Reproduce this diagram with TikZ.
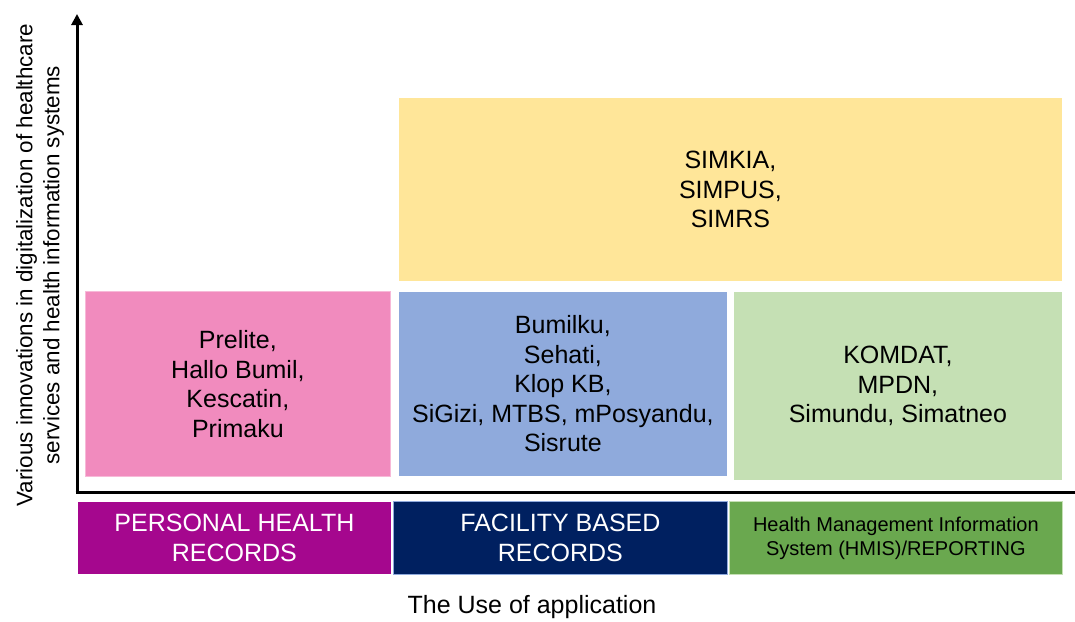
\documentclass[tikz,border=0pt]{standalone}
\usepackage{fontspec}
\setmainfont{Liberation Sans}
\usetikzlibrary{arrows.meta}
\definecolor{pinkbox}{HTML}{F18BBE}
\definecolor{bluebox}{HTML}{8FAADC}
\definecolor{yellowbox}{HTML}{FFE699}
\definecolor{greenbox}{HTML}{C5E0B4}
\definecolor{phrcol}{HTML}{A5078E}
\definecolor{fbrcol}{HTML}{002060}
\definecolor{hmiscol}{HTML}{6AA84F}
\tikzset{
    cell/.style={draw=white, line width=0.8pt, inner sep=0pt, align=center, anchor=north west,
      font=\fontsize{25}{29.5}\selectfont},
    usecell/.style={cell, font=\fontsize{25}{30.5}\selectfont},
    axis/.style={line width=3pt},
  }
\begin{document}
\begin{tikzpicture}[x=1pt,y=-1pt]
				  \useasboundingbox (0,0) rectangle (1075,621);
				  %axes
				  \coordinate(O) at (77,492);
				  \coordinate(ytop) at (77,14);
				  \coordinate(xend) at (1075,492);
				  
				  \draw[axis,-{Triangle[length=11pt,width=11pt]}] (O) -- (ytop);
				  \draw[axis] ([xshift=-1.5pt]O) -- (xend);
				  
				  %innovations
				  \node[cell, fill=yellowbox, minimum width=664pt, minimum height=184pt] (simkia) at (398,97) {SIMKIA,\\SIMPUS,\\SIMRS};
				  \node[cell, draw=pinkbox!60!white, fill=pinkbox, minimum width=305pt, minimum height=185pt] (prelite) at (85,291) {Prelite,\\Hallo Bumil,\\Kescatin,\\Primaku};
				  \node[cell, fill=bluebox, minimum width=329pt, minimum height=185pt] (bumilku) at (398,291) {Bumilku,\\Sehati,\\Klop KB,\\SiGizi, MTBS, mPosyandu,\\Sisrute};
				  \node[cell, fill=greenbox, minimum width=329pt, minimum height=189pt] (komdat) at (733,291) {KOMDAT,\\MPDN,\\Simundu, Simatneo};
				  
				  %use of application
				  \node[usecell, fill=phrcol, text=white, minimum width=314pt, minimum height=73pt] (phr) at (77,501) {PERSONAL HEALTH\\RECORDS};
				  \node[usecell, draw=bluebox, fill=fbrcol, text=white, minimum width=334pt, minimum height=73pt] (fbr) at (393,501) {FACILITY BASED\\RECORDS};
				  \node[usecell, draw=greenbox, fill=hmiscol, minimum width=333pt, minimum height=73pt, font=\fontsize{20}{24}\selectfont] (hmis) at (729,501) {Health Management Information\\System (HMIS)/REPORTING};
				  
				  %labels
				  \node[rotate=90, align=center, font=\fontsize{22.4}{27}\selectfont] (ylabel) at (40,265) {Various innovations in digitalization of healthcare\\services and health information systems};
				  \node[font=\fontsize{25}{30}\selectfont] (xlabel) at (532,607) {The Use of application};
				  \end{tikzpicture}
\end{document}
